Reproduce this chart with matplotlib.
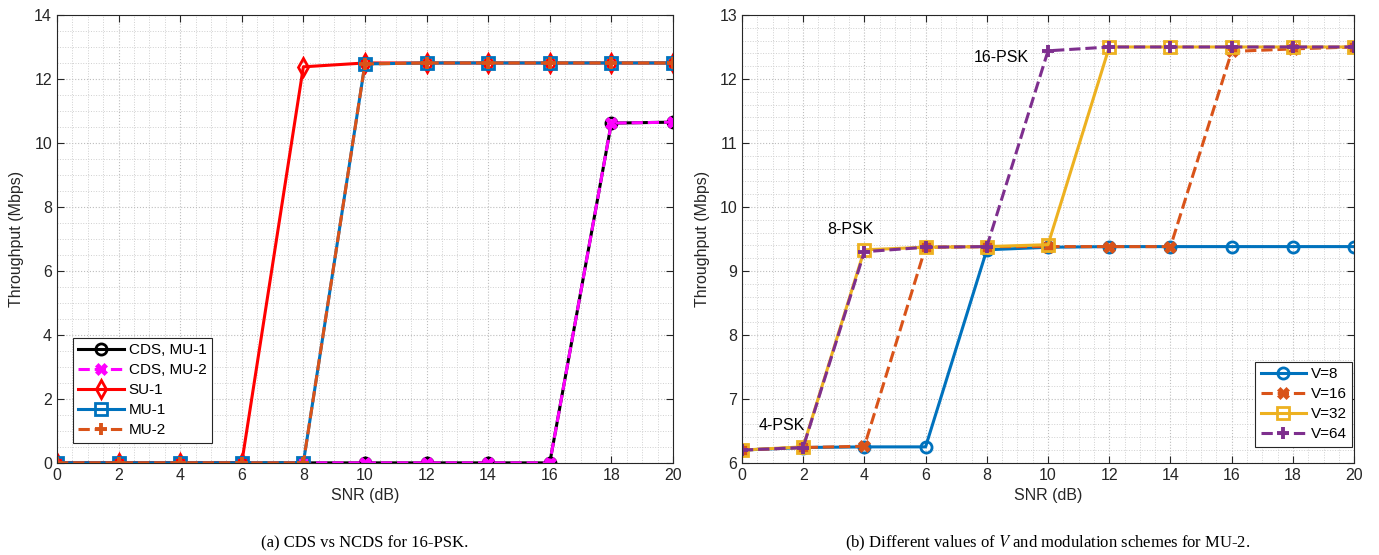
import numpy as np
import matplotlib
matplotlib.use('Agg')
import matplotlib.pyplot as plt
from matplotlib.ticker import MultipleLocator

plt.rcParams['font.family'] = ['Liberation Sans', 'DejaVu Sans']
plt.rcParams['mathtext.fontset'] = 'stix'

# SNR values (dB)
snr = [0, 2, 4, 6, 8, 10, 12, 14, 16, 18, 20]

# (a) CDS vs NCDS for 16-PSK
cds_mu1 = [0, 0, 0, 0, 0, 0, 0, 0, 0, 10.62, 10.65]
cds_mu2 = [0, 0, 0, 0, 0, 0, 0, 0, 0, 10.62, 10.65]
su1 = [0, 0, 0, 0, 12.38, 12.5, 12.5, 12.5, 12.5, 12.5, 12.5]
mu1 = [0, 0, 0, 0, 0, 12.47, 12.5, 12.5, 12.5, 12.5, 12.5]
mu2 = [0, 0, 0, 0, 0, 12.47, 12.5, 12.5, 12.5, 12.5, 12.5]

# (b) different V values, MU-2
v8 = [6.2, 6.24, 6.25, 6.25, 9.33, 9.37, 9.38, 9.38, 9.38, 9.38, 9.38]
v16 = [6.2, 6.24, 6.26, 9.37, 9.38, 9.38, 9.38, 9.38, 12.43, 12.47, 12.5]
v32 = [6.2, 6.25, 9.33, 9.37, 9.38, 9.41, 12.5, 12.5, 12.5, 12.5, 12.5]
v64 = [6.2, 6.24, 9.3, 9.37, 9.38, 12.44, 12.5, 12.5, 12.5, 12.5, 12.5]

blue = '#0072BD'
orange = '#D95319'
yellow = '#EDB120'
purple = '#7E2F8E'
axcol = '#262626'

fig = plt.figure(figsize=(13.79, 5.55), dpi=100)
ax1 = fig.add_axes([0.0413, 0.166, 0.4467, 0.807])
ax2 = fig.add_axes([0.538, 0.166, 0.444, 0.807])

lw = 2.2
ms = 8

ax1.plot(snr, cds_mu1, '-', color='k', lw=lw, marker='o', ms=ms, mfc='none', mew=2, label='CDS, MU-1')
ax1.plot(snr, cds_mu2, '--', color='magenta', lw=lw, marker='X', ms=ms, mew=0.5, label='CDS, MU-2')
ax1.plot(snr, su1, '-', color='red', lw=lw, marker='d', ms=ms + 1, mfc='none', mew=2, label='SU-1')
ax1.plot(snr, mu1, '-', color=blue, lw=lw, marker='s', ms=ms, mfc='none', mew=2, label='MU-1')
ax1.plot(snr, mu2, '--', color=orange, lw=lw, marker='+', ms=ms + 1, mew=2.8, label='MU-2')

ax2.plot(snr, v8, '-', color=blue, lw=lw, marker='o', ms=ms, mfc='none', mew=2, label='V=8')
ax2.plot(snr, v16, '--', color=orange, lw=lw, marker='X', ms=ms, mew=0.5, label='V=16')
ax2.plot(snr, v32, '-', color=yellow, lw=lw, marker='s', ms=ms, mfc='none', mew=2, label='V=32')
ax2.plot(snr, v64, '--', color=purple, lw=lw, marker='+', ms=ms + 1, mew=2.8, label='V=64')

ax2.text(1.3, 6.58, '4-PSK', fontsize=11.5, ha='center', va='center', color='k')
ax2.text(3.53, 9.64, '8-PSK', fontsize=11.5, ha='center', va='center', color='k')
ax2.text(8.46, 12.33, '16-PSK', fontsize=11.5, ha='center', va='center', color='k')

for ax, ylim, ymaj, ymin in [(ax1, (0, 14), 2, 0.5), (ax2, (6, 13), 1, 0.2)]:
    ax.set_xlim(0, 20)
    ax.set_ylim(*ylim)
    ax.xaxis.set_major_locator(MultipleLocator(2))
    ax.xaxis.set_minor_locator(MultipleLocator(0.5))
    ax.yaxis.set_major_locator(MultipleLocator(ymaj))
    ax.yaxis.set_minor_locator(MultipleLocator(ymin))
    ax.grid(which='major', linestyle=':', color='#bdbdbd', lw=0.8)
    ax.grid(which='minor', linestyle=':', color='#d0d0d0', lw=0.7)
    ax.set_axisbelow(True)
    ax.tick_params(which='major', direction='in', top=True, right=True, length=5,
                   width=0.8, colors=axcol, labelsize=11.5, labelcolor=axcol)
    ax.tick_params(which='minor', length=0)
    for s in ax.spines.values():
        s.set_color(axcol)
        s.set_linewidth(0.8)
    ax.set_xlabel('SNR (dB)', fontsize=11.5, color=axcol, labelpad=4)
    ax.set_ylabel('Throughput (Mbps)', fontsize=11.5, color=axcol, labelpad=7)

leg1 = ax1.legend(loc='lower left', bbox_to_anchor=(0.026, 0.045), fontsize=11,
                  fancybox=False, framealpha=1, edgecolor=axcol, handlelength=3,
                  handletextpad=0.3, borderpad=0.35, labelspacing=0.4, borderaxespad=0)
leg2 = ax2.legend(loc='lower right', bbox_to_anchor=(0.997, 0.036), fontsize=11,
                  fancybox=False, framealpha=1, edgecolor=axcol, handlelength=3,
                  handletextpad=0.3, borderpad=0.35, labelspacing=0.4, borderaxespad=0)
for leg in (leg1, leg2):
    leg.get_frame().set_linewidth(0.8)

fig.text(0.2645, 0.014, '(a) CDS vs NCDS for 16-PSK.', ha='center', va='baseline',
         fontsize=12, family='Liberation Serif')
fig.text(0.76, 0.014, '(b) Different values of $V$ and modulation schemes for MU-2.',
         ha='center', va='baseline', fontsize=12, family='Liberation Serif')

fig.savefig('out.png', dpi=100)
